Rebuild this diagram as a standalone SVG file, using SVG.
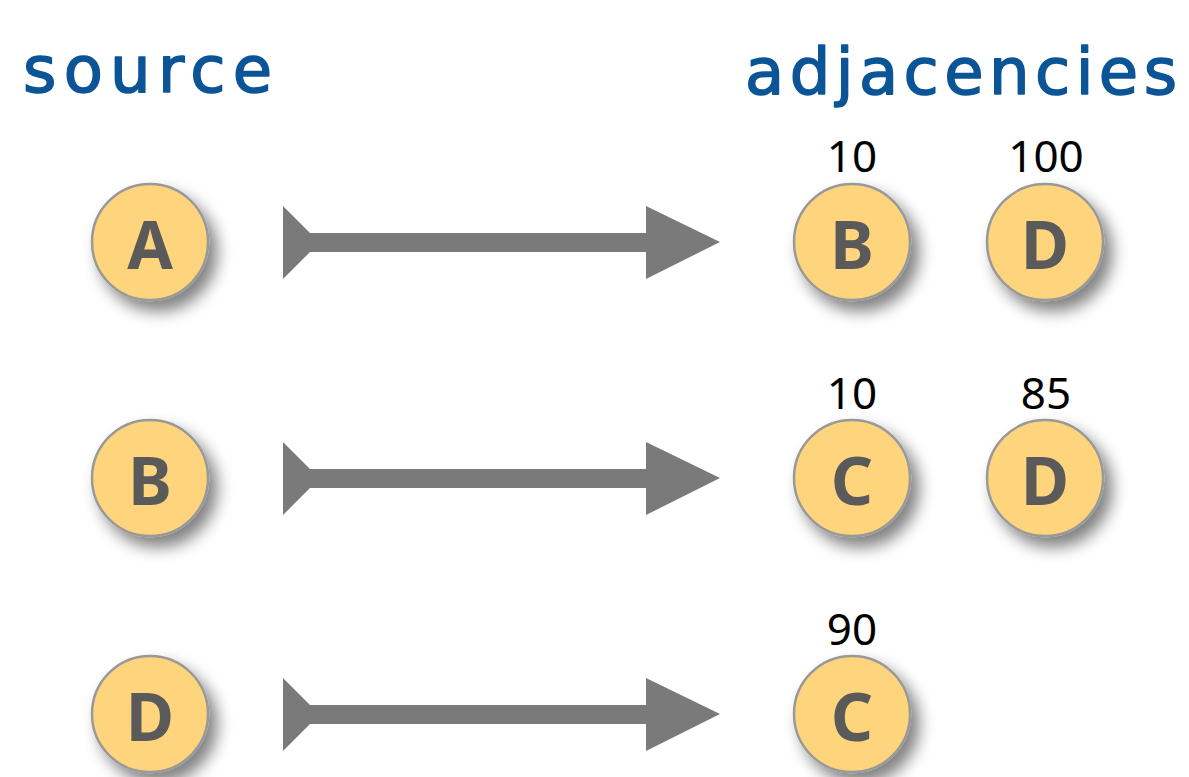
<svg xmlns="http://www.w3.org/2000/svg" width="1189" height="777" viewBox="0 0 1189 777">
  <defs>
    <filter id="shadow" x="-40%" y="-40%" width="190%" height="190%">
      <feGaussianBlur in="SourceAlpha" stdDeviation="8"/>
      <feOffset dx="8" dy="10" result="b"/>
      <feComponentTransfer><feFuncA type="linear" slope="0.5"/></feComponentTransfer>
      <feMerge><feMergeNode/><feMergeNode in="SourceGraphic"/></feMerge>
    </filter>
    <polygon id="arrow" points="0,-36 27,-9 363,-9 363,-36 437,0 363,37 363,10 27,10 0,37"/>
  </defs>
  <style>
    .node circle { fill: #fed47b; stroke: #999999; stroke-width: 2.5; }
    .node text { font-family: "Noto Sans", "Open Sans", sans-serif; font-weight: 700; font-size: 66px; fill: #5a5a5a; text-anchor: middle; }
    .weight { font-family: "Noto Sans", "Liberation Sans", sans-serif; font-size: 44px; fill: #000; text-anchor: middle; }
    .title { font-family: "DejaVu Sans", "Noto Sans", sans-serif; font-size: 64px; fill: #0b5597; stroke: #0b5597; stroke-width: 1.6; stroke-linejoin: round; }
    .conn use { fill: #7a7a7a; }
  </style>

  <rect width="1189" height="777" fill="#ffffff"/>

  <!-- column headings -->
  <text class="title" x="23" y="92" textLength="249" lengthAdjust="spacing">source</text>
  <text class="title" x="745" y="94" textLength="432" lengthAdjust="spacing">adjacencies</text>

  <!-- connectors: source to adjacency list -->
  <g id="connectors" class="conn">
    <use href="#arrow" x="283" y="242"/>
    <use href="#arrow" x="283" y="478"/>
    <use href="#arrow" x="283" y="714"/>
  </g>

  <!-- source nodes -->
  <g id="src-A" class="node" filter="url(#shadow)">
    <circle cx="150" cy="242" r="58"/><text x="150" y="269">A</text>
  </g>
  <g id="src-B" class="node" filter="url(#shadow)">
    <circle cx="150" cy="478" r="58"/><text x="150" y="505">B</text>
  </g>
  <g id="src-D" class="node" filter="url(#shadow)">
    <circle cx="150" cy="714" r="58"/><text x="150" y="741">D</text>
  </g>

  <!-- adjacency nodes with edge weights -->
  <g id="adj-A-B">
    <text class="weight" x="852" y="172">10</text>
    <g class="node" filter="url(#shadow)"><circle cx="852" cy="242" r="58"/><text x="852" y="269">B</text></g>
  </g>
  <g id="adj-A-D">
    <text class="weight" x="1046" y="172">100</text>
    <g class="node" filter="url(#shadow)"><circle cx="1045" cy="242" r="58"/><text x="1045" y="269">D</text></g>
  </g>
  <g id="adj-B-C">
    <text class="weight" x="852" y="409">10</text>
    <g class="node" filter="url(#shadow)"><circle cx="852" cy="478" r="58"/><text x="852" y="505">C</text></g>
  </g>
  <g id="adj-B-D">
    <text class="weight" x="1046" y="409">85</text>
    <g class="node" filter="url(#shadow)"><circle cx="1045" cy="478" r="58"/><text x="1045" y="505">D</text></g>
  </g>
  <g id="adj-D-C">
    <text class="weight" x="852" y="645">90</text>
    <g class="node" filter="url(#shadow)"><circle cx="852" cy="714" r="58"/><text x="852" y="741">C</text></g>
  </g>
</svg>
